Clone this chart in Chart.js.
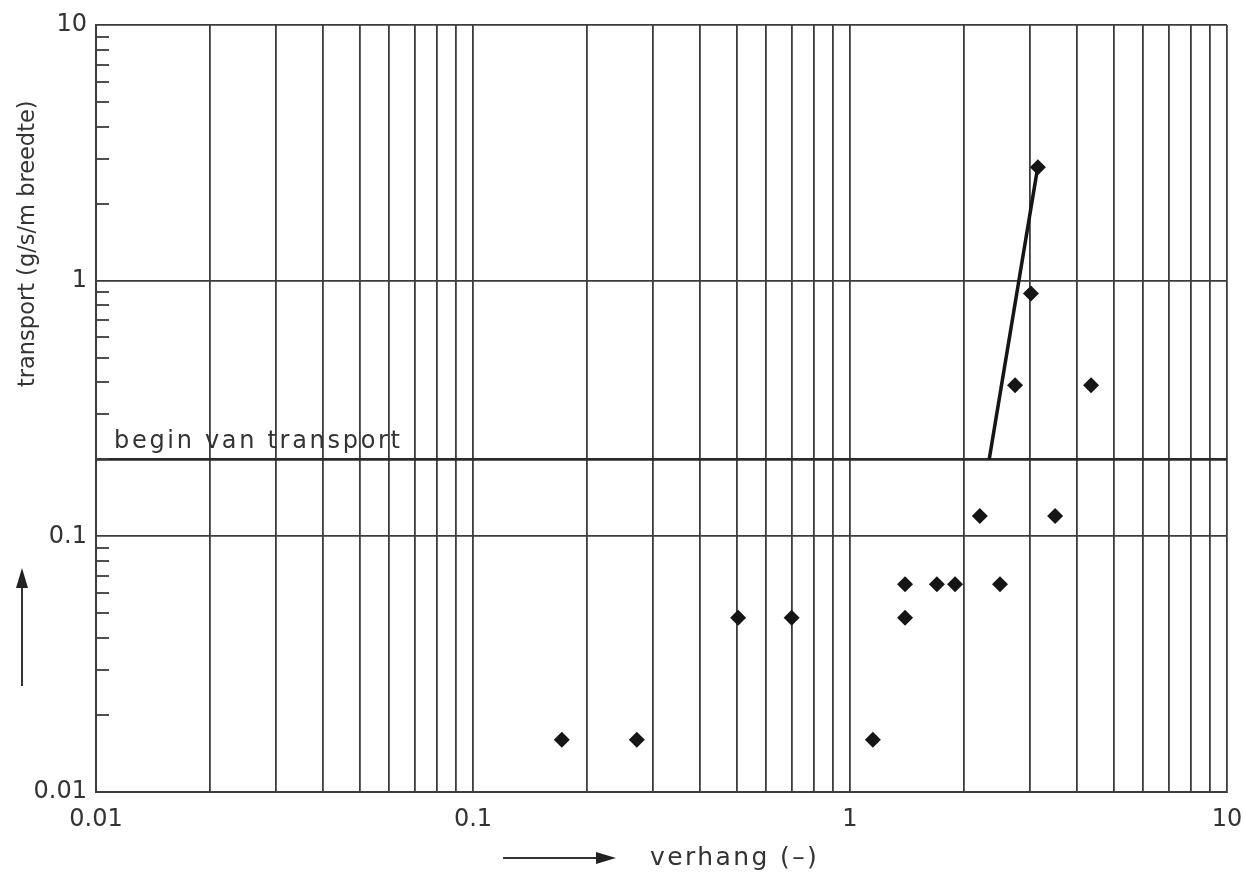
<!DOCTYPE html>
<html><head><meta charset="utf-8">
<script src="https://cdn.jsdelivr.net/npm/chart.js@4/dist/chart.umd.min.js"></script>
<style>html,body{margin:0;padding:0;background:#fff;}canvas{display:block;}</style>
</head><body>
<canvas id="c" width="1243" height="875"></canvas>
<script>
// ---- data ----
const verhang   = [0.172, 0.272, 0.505, 0.70, 1.15, 1.40, 1.40, 1.70, 1.90, 2.21, 2.50, 2.74, 3.02, 3.15, 3.50, 4.36];
const transport = [0.016, 0.016, 0.048, 0.048, 0.016, 0.048, 0.065, 0.065, 0.065, 0.12, 0.065, 0.39, 0.89, 2.78, 0.12, 0.39];
const fitVerhang   = [2.34, 3.15];
const fitTransport = [0.2, 2.8];
const beginTransport = 0.2;
const axisMin = 0.01, axisMax = 10;
const decadeTicks  = [0.01, 0.1, 1, 10];
const decadeLabels = ['0.01', '0.1', '1', '10'];
const minorMultipliers = [1, 2, 3, 4, 5, 6, 7, 8, 9];
const xTitle = 'verhang (–)';
const yTitle = 'transport (g/s/m breedte)';
const refLabel = 'begin van transport';

const INK = '#3c3c3c';
const TXT = '#333333';
const FONT = '"DejaVu Sans", sans-serif';

// all grid positions for x (1..9 per decade)
const xGridValues = [];
decadeTicks.slice(0, 3).forEach(d => minorMultipliers.forEach(m => xGridValues.push(+(d * m).toPrecision(3))));
xGridValues.push(10);

function labelFor(v) {
  const i = decadeTicks.findIndex(d => Math.abs(d - v) / d < 1e-6);
  return i >= 0 ? decadeLabels[i] : '';
}

function arrow(ctx, x1, y1, x2, y2, head, half) {
  const ang = Math.atan2(y2 - y1, x2 - x1);
  const bx = x2 - head * Math.cos(ang), by = y2 - head * Math.sin(ang);
  ctx.beginPath(); ctx.moveTo(x1, y1); ctx.lineTo(bx, by); ctx.stroke();
  ctx.beginPath();
  ctx.moveTo(x2, y2);
  ctx.lineTo(bx + half * Math.sin(ang), by - half * Math.cos(ang));
  ctx.lineTo(bx - half * Math.sin(ang), by + half * Math.cos(ang));
  ctx.closePath(); ctx.fill();
}

const overlay = {
  id: 'overlay',
  afterDraw(chart) {
    const ctx = chart.ctx, ys = chart.scales.y, a = chart.chartArea;
    ctx.save();
    // inner minor ticks on the y axis
    ctx.strokeStyle = INK; ctx.lineWidth = 1.8;
    decadeTicks.slice(0, 3).forEach(d => minorMultipliers.slice(1).forEach(m => {
      const py = Math.round(ys.getPixelForValue(d * m));
      ctx.beginPath(); ctx.moveTo(a.left, py); ctx.lineTo(a.left + 13, py); ctx.stroke();
    }));
    // reference label
    ctx.fillStyle = TXT;
    ctx.font = '24px ' + FONT;
    ctx.letterSpacing = '2.7px';
    ctx.textAlign = 'left'; ctx.textBaseline = 'alphabetic';
    ctx.fillText(refLabel, a.left + 18, ys.getPixelForValue(beginTransport) - 11);
    // x title with arrow
    ctx.font = '25px ' + FONT;
    ctx.letterSpacing = '2.4px';
    ctx.fillText(xTitle, 650, 865);
    ctx.fillStyle = '#222'; ctx.strokeStyle = '#333'; ctx.lineWidth = 2;
    arrow(ctx, 503, 858, 616, 858, 20, 6);
    // y title with arrow
    ctx.fillStyle = TXT;
    ctx.save();
    ctx.translate(34, 387);
    ctx.rotate(-Math.PI / 2);
    ctx.font = '22.5px ' + FONT;
    ctx.letterSpacing = '0px';
    ctx.fillText(yTitle, 0, 0);
    ctx.restore();
    ctx.fillStyle = '#222';
    arrow(ctx, 22, 686, 22, 568, 20, 6);
    ctx.restore();
  }
};

new Chart(document.getElementById('c'), {
  type: 'scatter',
  data: {
    datasets: [
      {
        label: 'metingen',
        data: verhang.map((v, i) => ({ x: v, y: transport[i] })),
        pointStyle: 'rectRot', pointRadius: 8, pointHoverRadius: 8,
        backgroundColor: '#151515', borderColor: '#151515', borderWidth: 0,
        order: 1
      },
      {
        label: 'trend',
        data: fitVerhang.map((v, i) => ({ x: v, y: fitTransport[i] })),
        showLine: true, pointRadius: 0, borderColor: '#151515', borderWidth: 3.5,
        order: 2
      },
      {
        label: 'begin van transport',
        data: [{ x: axisMin, y: beginTransport }, { x: axisMax, y: beginTransport }],
        showLine: true, pointRadius: 0, borderColor: '#2a2a2a', borderWidth: 2.6,
        order: 3
      }
    ]
  },
  options: {
    responsive: false, animation: false, devicePixelRatio: 1,
    layout: { padding: { left: 0, top: 25, right: 16, bottom: 0 } },
    plugins: { legend: { display: false }, tooltip: { enabled: false } },
    scales: {
      x: {
        type: 'logarithmic', min: axisMin, max: axisMax,
        afterBuildTicks: s => { s.ticks = xGridValues.map(v => ({ value: v })); },
        afterFit: s => { s.height = 83; s.paddingRight = 0; s.paddingLeft = 0; },
        grid: { color: INK, lineWidth: 1.8, drawTicks: false },
        border: { color: INK, width: 2 },
        ticks: {
          autoSkip: false, maxRotation: 0, minRotation: 0, padding: 13,
          color: TXT, font: { family: FONT, size: 24 },
          callback: v => labelFor(v)
        }
      },
      y: {
        type: 'logarithmic', min: axisMin, max: axisMax,
        afterBuildTicks: s => { s.ticks = decadeTicks.map(v => ({ value: v })); },
        afterFit: s => { s.width = 96; s.paddingTop = 0; s.paddingBottom = 0; },
        grid: { color: INK, lineWidth: 1.8, drawTicks: false },
        border: { color: INK, width: 2 },
        ticks: {
          autoSkip: false, padding: 9,
          color: TXT, font: { family: FONT, size: 24 },
          callback: v => labelFor(v)
        }
      }
    }
  },
  plugins: [overlay]
});
</script>
</body></html>
